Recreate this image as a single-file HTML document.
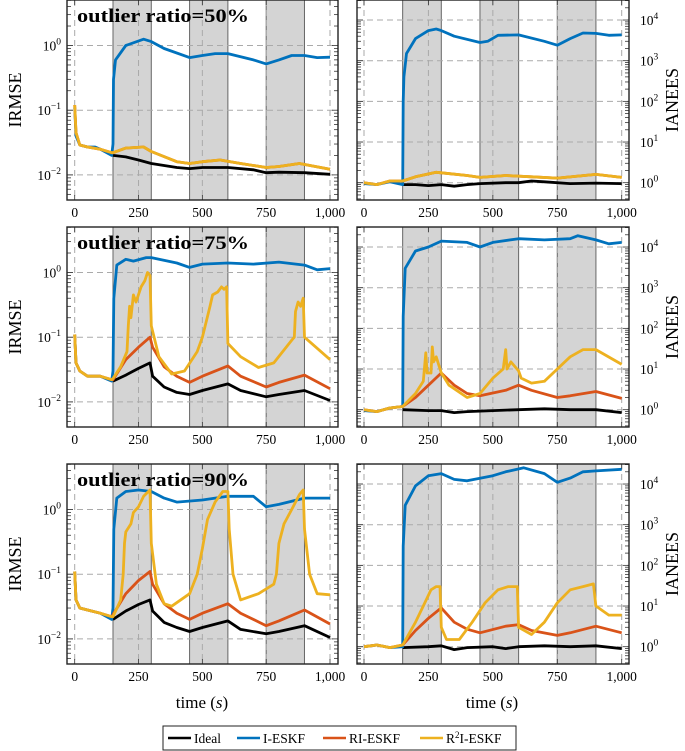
<!DOCTYPE html>
<html><head><meta charset="utf-8">
<style>
html,body{margin:0;padding:0;background:#fff;}
svg{display:block;font-family:"Liberation Serif","DejaVu Serif",serif;}
</style></head>
<body>
<svg id="chart" width="685" height="751" viewBox="0 0 685 751" xmlns="http://www.w3.org/2000/svg"></svg>
<script>
// ---- data (time in s, values) ----
const ticksX = [0, 250, 500, 750, 1000];
const tickLabelsX = ["0", "250", "500", "750", "1,000"];
const bands = [[150, 300], [450, 600], [750, 900]];
const leftDecades = [-2, -1, 0];
const rightDecades = [0, 1, 2, 3, 4];
const seriesNames = ["Ideal", "I-ESKF", "RI-ESKF", "R²I-ESKF"];
const titles = ["outlier ratio=50%", "outlier ratio=75%", "outlier ratio=90%"];

// Panel 1 left (IRMSE, 50%)
const p1L_ideal_t = [150,200,250,300,400,450,500,600,700,750,800,900,1000];
const p1L_ideal_v = [0.02,0.019,0.017,0.015,0.013,0.0125,0.013,0.013,0.012,0.0108,0.011,0.0108,0.0102];
const p1L_i_t = [0,5,20,50,80,100,145,150,152,160,200,270,300,350,450,500,550,600,700,750,800,850,900,950,1000];
const p1L_i_v = [0.11,0.04,0.029,0.027,0.027,0.025,0.02,0.03,0.3,0.6,1.0,1.25,1.15,0.9,0.65,0.7,0.75,0.75,0.6,0.52,0.6,0.7,0.7,0.65,0.66];
const p1L_ri_t = [0,5,20,50,100,145,150,200,270,300,400,450,500,570,650,750,800,880,1000];
const p1L_ri_v = [0.12,0.045,0.029,0.027,0.025,0.022,0.022,0.026,0.027,0.023,0.016,0.015,0.016,0.017,0.015,0.013,0.0135,0.015,0.0122];
const p1L_r2_t = [0,5,20,50,100,145,150,200,270,300,400,450,500,570,650,750,800,880,1000];
const p1L_r2_v = [0.12,0.045,0.029,0.027,0.025,0.022,0.022,0.026,0.027,0.023,0.016,0.015,0.016,0.017,0.015,0.013,0.0135,0.015,0.0122];

// Panel 1 right (IANEES, 50%)
const p1R_ideal_t = [150,200,250,300,350,400,450,550,600,650,700,800,900,1000];
const p1R_ideal_v = [0.9,0.9,0.85,0.9,0.82,0.9,0.95,1.0,1.0,1.1,1.05,0.95,0.98,0.95];
const p1R_i_t = [0,50,100,150,152,155,165,200,250,280,300,350,450,480,520,600,700,750,800,850,900,950,1000];
const p1R_i_v = [0.95,0.9,1.05,0.9,100,400,1500,3500,5500,6000,5500,4000,2800,3000,4200,4300,3000,2400,3500,4800,4700,4200,4300];
const p1R_ri_t = [0,50,100,150,200,280,300,400,450,550,650,750,900,1000];
const p1R_ri_v = [1.0,0.9,1.1,1.1,1.4,1.8,1.75,1.5,1.35,1.5,1.4,1.3,1.6,1.35];
const p1R_r2_t = [0,50,100,150,200,280,300,400,450,550,650,750,900,1000];
const p1R_r2_v = [1.0,0.9,1.1,1.1,1.4,1.8,1.75,1.5,1.35,1.5,1.4,1.3,1.6,1.35];

// Panel 2 left (IRMSE, 75%)
const p2L_ideal_t = [150,200,250,295,305,350,400,450,500,600,650,750,800,900,1000];
const p2L_ideal_v = [0.021,0.026,0.033,0.04,0.025,0.017,0.014,0.013,0.015,0.019,0.015,0.012,0.013,0.015,0.0105];
const p2L_i_t = [0,5,20,50,100,145,150,153,165,200,230,280,300,400,450,500,600,700,800,900,950,1000];
const p2L_i_v = [0.11,0.04,0.03,0.025,0.025,0.021,0.03,0.4,1.3,1.6,1.5,1.7,1.7,1.4,1.2,1.35,1.4,1.35,1.45,1.3,1.1,1.15];
const p2L_ri_t = [0,5,20,50,100,145,150,200,250,295,305,350,400,450,500,600,650,750,800,900,1000];
const p2L_ri_v = [0.11,0.04,0.03,0.025,0.025,0.022,0.022,0.045,0.07,0.1,0.07,0.035,0.025,0.02,0.025,0.036,0.025,0.017,0.02,0.026,0.016];
const p2L_r2_t = [0,5,20,50,100,145,150,180,205,210,215,220,230,240,260,275,285,295,300,330,380,430,480,500,530,540,560,575,585,595,600,650,720,780,850,860,865,875,885,895,900,1000];
const p2L_r2_v = [0.11,0.04,0.03,0.025,0.025,0.022,0.023,0.035,0.06,0.15,0.3,0.2,0.45,0.35,0.6,0.75,1.0,0.9,0.15,0.05,0.027,0.03,0.06,0.1,0.3,0.45,0.5,0.6,0.55,0.6,0.08,0.05,0.034,0.04,0.09,0.1,0.25,0.35,0.3,0.4,0.1,0.045];

// Panel 2 right (IANEES, 75%)
const p2R_ideal_t = [150,250,300,350,400,500,600,700,800,900,1000];
const p2R_ideal_v = [1.0,0.95,0.95,0.85,0.9,0.95,1.0,1.05,1.0,1.0,0.85];
const p2R_i_t = [0,50,100,150,152,160,200,250,300,400,450,500,600,700,800,830,900,950,1000];
const p2R_i_v = [0.95,0.9,1.1,1.2,200,3000,8000,10000,14000,13000,10000,13000,16000,15000,16000,19000,15000,12000,13000];
const p2R_ri_t = [0,50,100,150,200,250,300,350,400,450,550,600,650,750,800,900,1000];
const p2R_ri_v = [1.0,0.9,1.1,1.2,2,4,8,4,2.5,2.2,3,4,3,2,2.2,2.8,1.9];
const p2R_r2_t = [0,50,100,150,200,230,240,245,260,265,270,280,300,330,400,450,500,540,550,555,570,600,610,650,700,750,800,850,900,1000];
const p2R_r2_v = [1.0,0.9,1.1,1.2,2.5,5,25,8,8,35,15,20,8,4,2,2.5,6,10,30,10,15,9,6,4.5,5,10,20,30,30,13];

// Panel 3 left (IRMSE, 90%)
const p3L_ideal_t = [150,200,250,295,305,350,400,450,500,600,650,750,800,900,1000];
const p3L_ideal_v = [0.02,0.027,0.034,0.04,0.027,0.018,0.015,0.013,0.015,0.019,0.014,0.012,0.013,0.016,0.0105];
const p3L_i_t = [0,5,20,50,100,145,150,153,165,200,250,300,350,400,500,600,700,750,800,900,1000];
const p3L_i_v = [0.11,0.04,0.03,0.028,0.025,0.02,0.03,0.5,1.5,1.9,2.0,1.9,1.5,1.3,1.4,1.6,1.6,1.1,1.2,1.5,1.5];
const p3L_ri_t = [0,5,20,50,100,145,200,250,295,305,350,400,450,500,600,650,750,800,900,1000];
const p3L_ri_v = [0.11,0.04,0.03,0.028,0.025,0.022,0.05,0.08,0.11,0.07,0.035,0.025,0.02,0.025,0.035,0.025,0.016,0.019,0.028,0.017];
const p3L_r2_t = [0,5,20,50,100,145,150,180,190,195,200,220,230,250,270,295,300,320,350,380,450,480,500,520,550,580,600,605,620,650,720,780,790,800,820,850,880,895,900,920,950,1000];
const p3L_r2_v = [0.11,0.04,0.03,0.028,0.025,0.022,0.022,0.04,0.1,0.3,0.45,0.6,0.9,1.1,1.6,2.0,0.3,0.07,0.035,0.032,0.05,0.1,0.25,0.7,1.3,1.9,1.9,0.5,0.1,0.04,0.05,0.07,0.1,0.3,0.6,1.0,1.7,2.0,0.5,0.1,0.05,0.048];

// Panel 3 right (IANEES, 90%)
const p3R_ideal_t = [150,250,300,350,400,500,550,600,700,800,900,1000];
const p3R_ideal_v = [0.95,1.0,1.05,0.85,0.95,1.0,0.9,1.0,1.05,1.0,1.05,0.9];
const p3R_i_t = [0,50,100,150,152,160,200,250,300,350,400,500,550,620,700,750,800,850,900,1000];
const p3R_i_v = [1.0,1.1,0.95,1.0,300,3000,9000,16000,18000,13000,12000,16000,20000,25000,18000,11000,14000,20000,21000,23000];
const p3R_ri_t = [0,50,100,150,200,250,300,350,400,450,550,600,650,750,800,900,1000];
const p3R_ri_v = [1.0,1.1,0.95,1.1,2.5,5,9,4,2.7,2.2,3.2,3.5,2.5,1.9,2.2,3.2,2.2];
const p3R_r2_t = [0,50,100,150,200,230,260,280,295,300,320,370,420,470,520,560,595,600,650,700,750,800,850,890,900,950,1000];
const p3R_r2_v = [1.0,1.1,0.95,1.1,4,10,25,30,30,3,1.5,1.5,4,12,25,30,30,3,2,4,12,25,30,35,10,6,6];

const colors = ["#000000", "#0072bd", "#d95319", "#edb120"];

// ---- layout ----
const NS = "http://www.w3.org/2000/svg";
const svg = document.getElementById("chart");
function el(tag, attrs, parent) {
  const e = document.createElementNS(NS, tag);
  for (const k in attrs) e.setAttribute(k, attrs[k]);
  (parent || svg).appendChild(e);
  return e;
}
const rowTops = [0, 227, 464];
const PH = 200;
const L = {x0: 67, x1: 338, tx0: 74.7, tx1: 330, y0off: 45.5, dec: 64.7};
const R = {x0: 357, x1: 629, tx0: 364, tx1: 621.7, y0off: 182.7, dec: 40.67};

const panels = [
  {side: L, row: 0, key: "irmse-50", data: [[p1L_ideal_t,p1L_ideal_v],[p1L_i_t,p1L_i_v],[p1L_ri_t,p1L_ri_v],[p1L_r2_t,p1L_r2_v]]},
  {side: R, row: 0, key: "ianees-50", data: [[p1R_ideal_t,p1R_ideal_v],[p1R_i_t,p1R_i_v],[p1R_ri_t,p1R_ri_v],[p1R_r2_t,p1R_r2_v]]},
  {side: L, row: 1, key: "irmse-75", data: [[p2L_ideal_t,p2L_ideal_v],[p2L_i_t,p2L_i_v],[p2L_ri_t,p2L_ri_v],[p2L_r2_t,p2L_r2_v]]},
  {side: R, row: 1, key: "ianees-75", data: [[p2R_ideal_t,p2R_ideal_v],[p2R_i_t,p2R_i_v],[p2R_ri_t,p2R_ri_v],[p2R_r2_t,p2R_r2_v]]},
  {side: L, row: 2, key: "irmse-90", data: [[p3L_ideal_t,p3L_ideal_v],[p3L_i_t,p3L_i_v],[p3L_ri_t,p3L_ri_v],[p3L_r2_t,p3L_r2_v]]},
  {side: R, row: 2, key: "ianees-90", data: [[p3R_ideal_t,p3R_ideal_v],[p3R_i_t,p3R_i_v],[p3R_ri_t,p3R_ri_v],[p3R_r2_t,p3R_r2_v]]},
];

panels.forEach(p => {
  const s = p.side, top = rowTops[p.row], bot = top + PH;
  const xS = t => s.tx0 + (t / 1000) * (s.tx1 - s.tx0);
  const yS = v => top + s.y0off - Math.log10(v) * s.dec;
  const g = el("g", {});
  
  
  const clipId = "clip-" + p.key;
  const cp = el("clipPath", {id: clipId}, g);
  el("rect", {x: s.x0, y: top, width: s.x1 - s.x0, height: PH}, cp);
  bands.forEach((b, i) => {
    const r = el("rect", {x: xS(b[0]), y: top, width: xS(b[1]) - xS(b[0]), height: PH, fill: "#d4d4d4", stroke: "#666", "stroke-width": 1}, g);
    
    
  });
  ticksX.forEach(t => el("line", {x1: xS(t), x2: xS(t), y1: top, y2: bot, stroke: "#aaa", "stroke-width": 1, "stroke-dasharray": "6,4"}, g));
  const decs = s === L ? leftDecades : rightDecades;
  decs.forEach(d => el("line", {x1: s.x0, x2: s.x1, y1: yS(Math.pow(10, d)), y2: yS(Math.pow(10, d)), stroke: "#aaa", "stroke-width": 1, "stroke-dasharray": "6,4"}, g));
  const dmin = s === L ? -3 : -1, dmax = s === L ? 1 : 5;
  for (let d = dmin; d < dmax; d++) for (let m = 1; m <= 9; m++) {
    const y = yS(m * Math.pow(10, d));
    if (y < top || y > bot) continue;
    const len = m === 1 ? 6 : 4;
    el("line", {x1: s.x0, x2: s.x0 + len, y1: y, y2: y, stroke: "#333", "stroke-width": 0.8}, g);
    el("line", {x1: s.x1, x2: s.x1 - len, y1: y, y2: y, stroke: "#333", "stroke-width": 0.8}, g);
  }
  ticksX.forEach(t => {
    el("line", {x1: xS(t), x2: xS(t), y1: bot, y2: bot - 5, stroke: "#333", "stroke-width": 0.8}, g);
    el("line", {x1: xS(t), x2: xS(t), y1: top, y2: top + 5, stroke: "#333", "stroke-width": 0.8}, g);
  });
  const lg = el("g", {"clip-path": "url(#" + clipId + ")"}, g);
  p.data.forEach((d, i) => {
    const pts = d[0].map((t, j) => xS(t).toFixed(1) + "," + yS(d[1][j]).toFixed(1)).join(" ");
    const pl = el("polyline", {points: pts, fill: "none", stroke: colors[i], "stroke-width": 2.8, "stroke-linejoin": "round"}, lg);
    
    
  });
  el("rect", {x: s.x0, y: top, width: s.x1 - s.x0, height: PH, fill: "none", stroke: "#222", "stroke-width": 1.4}, g);
  ticksX.forEach((t, i) => {
    const tx = el("text", {x: xS(t), y: bot + 17, "font-size": 13.5, "text-anchor": "middle"}, g);
    tx.textContent = tickLabelsX[i];
    
    
  });
  decs.forEach(d => {
    const y = yS(Math.pow(10, d));
    const tx = el("text", {x: s === L ? 61 : 640, y: y + 5, "font-size": 13.5, "text-anchor": s === L ? "end" : "start"}, g);
    
    
    const a = el("tspan", {}, tx); a.textContent = "10";
    const b = el("tspan", {"font-size": 9.5, dy: -6}, tx); b.textContent = d < 0 ? "\u2212" + (-d) : String(d);
  });
  const ax = s === L ? 15 : 672, ay = top + 100;
  const at = el("text", {x: ax, y: ay, "font-size": 18, "text-anchor": "middle", transform: "rotate(-90 " + ax + " " + ay + ")", dy: 6}, g);
  at.textContent = s === L ? "IRMSE" : "IANEES";
  
  
  if (s === L) {
    const tt = el("text", {x: 77, y: top + 22, "font-size": 19, "font-weight": "bold", textLength: 172, lengthAdjust: "spacingAndGlyphs"}, g);
    tt.textContent = titles[p.row];
    
    
  }
});

[[202, "left"], [492, "right"]].forEach(a => {
  const t = el("text", {x: a[0], y: 708, "font-size": 17, "text-anchor": "middle"});
  
  
  const t1 = el("tspan", {}, t); t1.textContent = "time (";
  const t2 = el("tspan", {"font-style": "italic"}, t); t2.textContent = "s";
  const t3 = el("tspan", {}, t); t3.textContent = ")";
});

const lgd = el("g", {});


el("rect", {x: 163, y: 726, width: 353, height: 24, fill: "#fff", stroke: "#222", "stroke-width": 1}, lgd);
const legX = [168, 237, 323, 420];
seriesNames.forEach((n, i) => {
  const e = el("g", {}, lgd);
  
  
  el("line", {x1: legX[i], x2: legX[i] + 23, y1: 738, y2: 738, stroke: colors[i], "stroke-width": 2.4}, e);
  const t = el("text", {x: legX[i] + 26, y: 743, "font-size": 13.5}, e);
  if (i === 3) {
    const a = el("tspan", {}, t); a.textContent = "R";
    const b = el("tspan", {"font-size": 9, dy: -5}, t); b.textContent = "2";
    const c = el("tspan", {dy: 5}, t); c.textContent = "I-ESKF";
  } else t.textContent = n;
});
</script>
</body></html>
